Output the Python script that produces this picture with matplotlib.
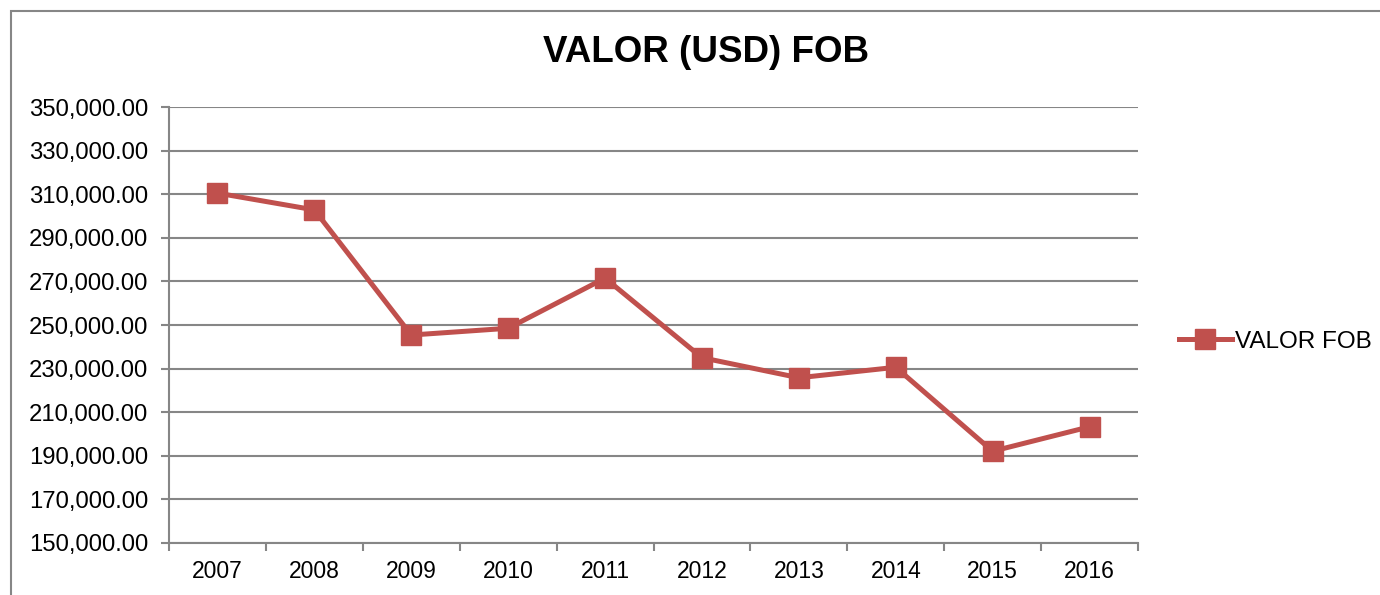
import matplotlib.pyplot as plt
from matplotlib.patches import Rectangle
from matplotlib.ticker import FuncFormatter, FixedLocator

plt.rcParams['font.family'] = ['Liberation Sans', 'DejaVu Sans']

# Datos
years = ['2007', '2008', '2009', '2010', '2011', '2012', '2013', '2014', '2015', '2016']
valor_fob = [310500, 302800, 245400, 248500, 271500, 235000, 225800, 230600, 192100, 203300]

red = '#C0504D'
gray = '#868686'

fig = plt.figure(figsize=(13.8, 5.95), dpi=100)
ax = fig.add_axes([169 / 1380, 52 / 595, (1138 - 169) / 1380, (543 - 107) / 595])

# Borde del area del grafico (recortado a la derecha y abajo)
fig.patches.append(Rectangle((11 / 1380, -0.05), 1.2, 1 - 11 / 595 + 0.05,
                             transform=fig.transFigure, fill=False,
                             edgecolor=gray, linewidth=1.5))

x = list(range(len(years)))
ax.plot(x, valor_fob, color=red, linewidth=3.6, marker='s', markersize=14.5,
        label='VALOR FOB', zorder=3)

ax.set_xlim(-0.5, len(years) - 0.5)
ax.set_ylim(150000, 350000)
ax.set_yticks(range(150000, 350001, 20000))
ax.yaxis.set_major_formatter(FuncFormatter(lambda v, p: f'{v:,.2f}'))
ax.set_xticks(x)
ax.set_xticklabels(years)
ax.xaxis.set_minor_locator(FixedLocator([i - 0.5 for i in range(len(years) + 1)]))

ax.tick_params(axis='x', which='major', length=0, labelsize=16.5, pad=12)
ax.tick_params(axis='x', which='minor', length=6, width=1.5, color=gray, direction='out')
ax.tick_params(axis='y', length=6, width=1.5, color=gray, labelsize=17.2, pad=9)

ax.grid(axis='y', color=gray, linewidth=1.5)
ax.set_axisbelow(True)
for s in ['top', 'right']:
    ax.spines[s].set_visible(False)
for s in ['left', 'bottom']:
    ax.spines[s].set_color(gray)
    ax.spines[s].set_linewidth(1.5)

fig.text(706 / 1380, 1 - 53 / 595, 'VALOR (USD) FOB', ha='center', va='center',
         fontsize=26.5, fontweight='bold')

ax.legend(loc='center left', bbox_to_anchor=(1.032, 0.462), frameon=False,
          fontsize=17.5, handlelength=2.2, handletextpad=0.1, borderaxespad=0)

fig.savefig('out.png', dpi=100)
